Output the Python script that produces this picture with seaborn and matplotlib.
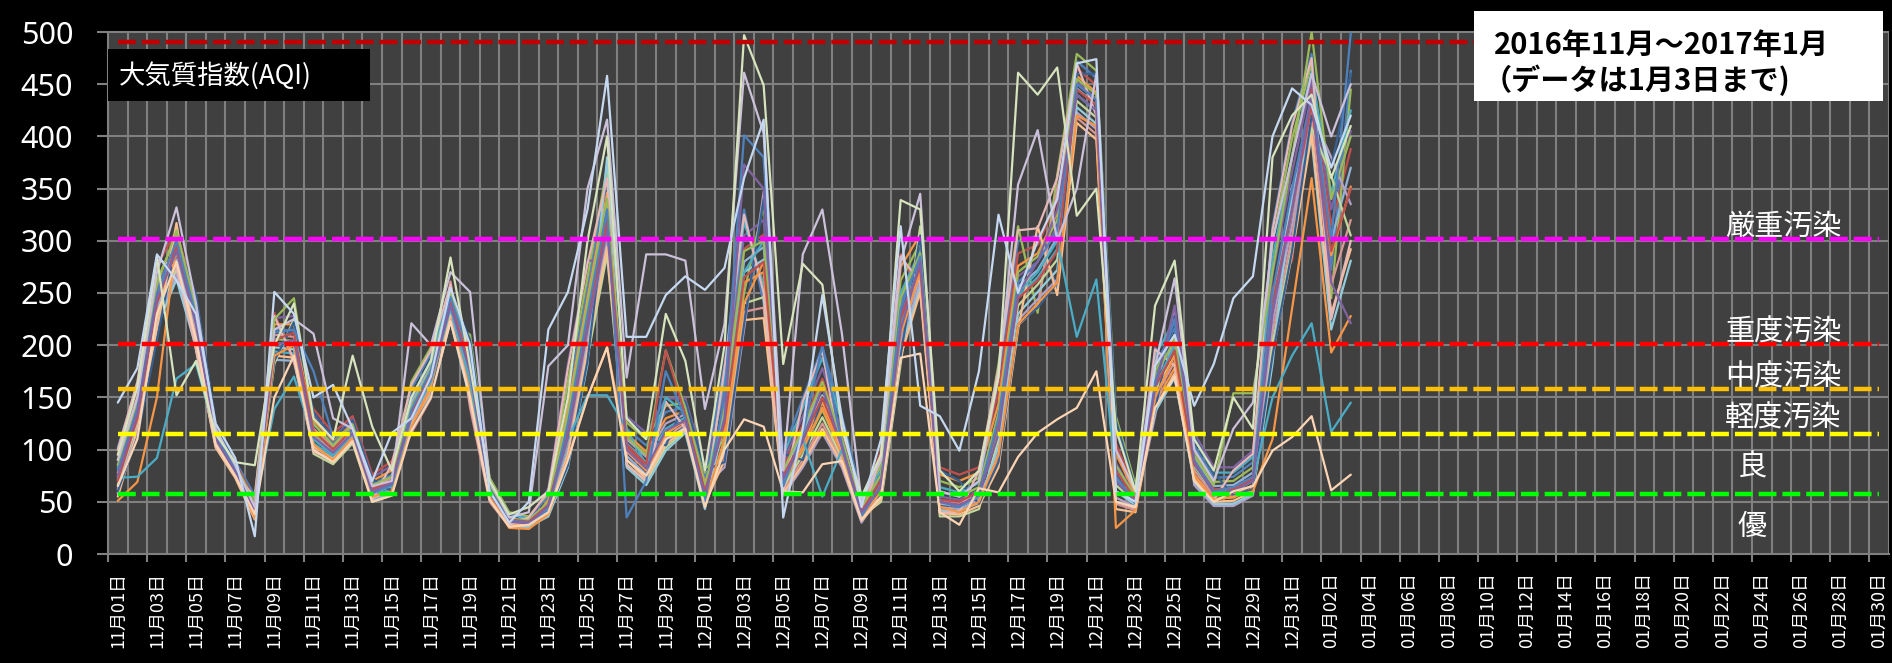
import numpy as np
import pandas as pd
import matplotlib
matplotlib.use("Agg")
import matplotlib.pyplot as plt
import seaborn as sns
from matplotlib.patches import Rectangle

sns.set_theme(style="dark")
plt.rcParams["font.family"] = ["Noto Sans CJK JP", "DejaVu Sans"]

# ---------------- categories / tick labels ----------------
dates = pd.date_range("2016-11-01", "2017-01-30", freq="D")
date_labels = [f"{d.month:02d}月{d.day:02d}日" for d in dates]
n_days = len(dates)

# ---------------- AQI series (11/01 .. 01/03, 64 days) ----------------
st01 = [102,162,270,261,246,124,89,56, 215,214,124,106,124,67,76, 158,192,256,160,71,38,35, 55,150,255,358,120,104,136,141,73, 182,330,240,99,149,198,132,56, 75,240,283,59,55,64, 168,300,305,255,472,456,118,63, 182,216,104,73,74,88, 314,413,479,272,463]
st02 = [95,158,276,310,240,122,87,52, 231,182,139,116,132,76,89, 140,175,244,182,64,34,32, 46,115,220,316,102,84,116,128,57, 145,292,306,83,124,168,114,46, 99,287,248,83,76,83, 155,288,296,338,465,449,106,60, 162,196,88,62,63,74, 255,281,446,315,388]
st03 = [90,150,262,305,232,119,85,50, 206,204,116,100,119,62,70, 165,198,221,210,73,40,36, 58,165,265,370,126,110,142,145,78, 112,250,335,67,100,138,96,38, 86,262,298,70,64,73, 182,314,231,363,479,463,132,66, 175,209,98,69,70,83, 298,398,470,245,445]
st04 = [86,145,255,298,226,116,83,48, 226,228,134,112,129,73,85, 132,166,236,170,60,32,30, 63,182,281,281,132,116,149,149,83, 155,305,320,88,132,178,120,49, 71,230,276,55,52,61, 134,266,280,314,452,436,87,55, 198,165,116,83,83,99, 268,366,454,330,405]
st05 = [82,140,248,292,222,114,82,46, 194,192,106,93,112,56,62, 150,186,252,195,68,37,34, 48,122,228,326,106,88,120,131,60, 168,318,258,94,140,188,126,52, 80,250,290,64,59,68, 118,247,265,292,440,424,73,51, 190,224,110,78,78,93, 282,382,462,345,425]
st06 = [78,136,242,288,218,112,80,44, 220,220,128,109,126,70,80, 120,155,226,155,54,29,27, 52,140,245,346,115,98,130,137,68, 120,260,270,70,105,145,100,40, 92,275,306,76,70,78, 144,276,288,326,458,442,96,57, 145,178,76,53,54,63, 232,327,430,286,352]
st07 = [75,132,236,282,214,111,79,43, 186,185,99,88,108,52,58, 145,180,248,188,66,35,33, 42,100,204,300,94,76,108,122,51, 136,280,294,78,117,160,109,44, 63,212,264,48,46,55, 126,256,272,303,446,430,80,53, 168,202,93,65,66,78, 243,339,438,300,370]
st08 = [71,128,230,276,210,109,78,41, 210,208,120,103,121,64,73, 116,149,261,140,50,26,26, 44,108,212,308,98,80,112,125,54, 96,232,236,61,90,125,89,34, 67,220,270,51,49,58, 89,219,237,350,418,402,48,42, 150,184,80,56,57,66, 212,304,415,258,320]
st09 = [66,124,226,272,206,107,76,39, 182,225,96,86,106,50,56, 136,170,240,176,62,33,31, 38,88,188,287,86,69,102,118,45, 104,240,246,64,95,131,92,36, 50,182,314,36,36,43, 110,238,258,282,434,418,66,49, 156,190,84,59,60,70, 202,294,408,362,305]
st10 = [62,120,222,268,203,105,75,37, 202,200,113,98,117,60,68, 128,162,232,165,58,31,29, 50,130,236,336,110,93,125,134,64, 83,215,347,56,83,116,83,30, 59,204,259,45,43,52, 96,224,244,263,423,407,54,45, 132,231,66,46,46,56, 222,315,422,380,335]
st11 = [58,116,218,263,198,103,74,35, 198,196,110,96,115,58,65, 118,152,223,148,52,27,26, 36,83,182,380,83,66,99,116,43, 128,270,282,74,111,152,104,42, 56,196,255,42,41,49, 103,230,251,272,428,412,60,47, 136,169,69,48,48,58, 182,352,397,215,281]
st12 = [55,118,215,317,195,102,73,33, 190,188,103,91,110,54,60, 124,158,229,202,56,30,28, 40,95,196,294,90,72,105,120,48, 90,224,226,58,86,120,86,32, 53,189,251,39,38,46, 83,215,314,248,413,397,43,40, 140,173,72,50,51,60, 192,287,402,230,292]
st13 = [60,112,205,300,248,125,86,38, 185,222,136,110,128,72,60, 120,150,250,205,70,38,29, 40,85,185,340,130,112,104,146,80, 88,220,340,96,90,150,128,50, 55,190,305,80,70,48, 88,220,236,260,460,460,128,62, 138,228,112,78,56,62, 190,290,420,370,460]
st14 = [100,165,282,275,196,104,76,55, 228,186,98,90,109,52,86, 162,195,258,145,52,28,35, 60,178,278,360,85,70,146,120,46, 178,325,250,60,146,195,88,33, 96,285,260,40,40,80, 178,310,312,360,470,420,50,44, 196,180,70,52,80,96, 310,410,475,225,300]
st15 = [145,178,287,262,230,125,92,17, 251,230,150,162,120,70,116, 130,170,255,200,60,30,50, 215,251,330,458,208,208,248,266,253, 274,360,416,35,120,248,130,45, 110,314,142,132,99,175, 325,250,300,340,470,474,60,50, 180,210,142,182,245,266, 400,446,430,370,420]
st16 = [90,150,270,332,240,120,85,45, 215,225,211,130,120,65,70, 221,200,270,251,70,35,40, 180,200,350,416,169,287,287,281,139, 220,461,403,80,287,330,211,50, 90,280,345,60,55,70, 170,354,406,300,350,460,100,60, 180,264,100,70,120,145, 300,380,460,400,450]
st17 = [95,160,285,152,185,115,88,85, 200,240,130,110,190,122,80, 150,185,284,180,70,38,45, 60,150,300,400,130,110,230,185,80, 200,497,449,182,278,258,120,55, 95,339,330,80,60,80, 170,461,440,466,324,350,120,60, 238,281,110,80,150,120, 380,420,440,360,410]
st18 = [65,110,230,280,205,105,75,38, 150,190,100,88,108,50,56, 118,150,223,150,52,26,28, 40,90,150,198,90,75,110,120,45, 100,129,122,60,59,86,89,33, 55,188,192,40,28,63, 59,93,116,129,140,175,50,45, 140,170,70,50,60,65, 99,112,132,61,76]
st19 = [51,69,150,300,230,110,80,34, 190,200,105,90,112,55,60, 122,160,240,160,56,25,24, 38,92,150,198,100,80,115,128,50, 110,240,280,70,100,140,95,35, 60,210,270,45,40,50, 95,220,240,260,420,410,25,42, 150,190,75,52,55,60, 110,235,360,193,228]
st20 = [73,74,92,168,182,115,80,45, 139,170,110,95,115,60,65, 130,165,235,165,60,32,30, 44,110,152,152,120,85,150,135,55, 130,270,300,70,110,55,100,40, 65,220,280,50,45,55, 120,250,270,300,208,263,70,50, 160,200,85,60,60,70, 150,190,221,117,145]
st21 = [85,145,258,310,235,118,84,47, 225,245,125,104,124,66,74, 140,178,250,185,64,34,32, 50,135,240,340,112,95,195,140,66, 140,290,300,80,120,165,110,44, 76,245,288,60,55,64, 135,270,285,320,455,440,85,54, 170,205,94,66,154,154, 270,380,500,340,400]
st22 = [70,130,240,295,225,112,81,42, 205,212,118,100,120,62,70, 135,172,242,180,62,33,31, 47,120,225,320,105,86,195,133,60, 125,265,280,75,110,150,103,41, 70,225,275,52,50,60, 125,245,262,290,445,430,80,52, 160,195,86,62,62,72, 240,330,430,290,350]
st23 = [80,140,250,300,228,113,82,40, 212,215,175,112,118,58,66, 138,176,246,190,62,32,30, 42,125,230,330,35,70,175,130,50, 150,401,380,65,115,200,105,36, 66,235,285,50,45,58, 130,260,280,310,450,435,75,48, 165,225,90,60,64,74, 250,350,440,300,499]
st24 = [75,135,245,290,220,110,79,42, 200,205,112,97,116,60,68, 132,168,238,175,58,31,29, 46,112,215,310,100,82,118,128,56, 130,373,350,72,108,160,102,40, 64,215,280,50,47,56, 115,250,280,330,440,425,70,50, 158,238,88,58,60,70, 230,330,440,260,221]

stations = {
    "st01": st01, "st02": st02, "st03": st03, "st04": st04, "st05": st05, "st06": st06,
    "st07": st07, "st08": st08, "st09": st09, "st10": st10, "st11": st11, "st12": st12,
    "st13": st13, "st14": st14, "st19": st19, "st20": st20, "st21": st21, "st22": st22,
    "st23": st23, "st24": st24, "st18": st18, "st16": st16, "st17": st17, "st15": st15,
}
station_colors = {
    "st01": "#4F81BD", "st02": "#C0504D", "st03": "#9BBB59", "st04": "#8064A2",
    "st05": "#4BACC6", "st06": "#F79646", "st07": "#95B3D7", "st08": "#D99694",
    "st09": "#C3D69B", "st10": "#B3A2C7", "st11": "#93CDDD", "st12": "#FAC090",
    "st13": "#376092", "st14": "#E6B9B8", "st19": "#F79646", "st20": "#4BACC6",
    "st21": "#9BBB59", "st22": "#C0504D", "st23": "#4F81BD", "st24": "#8064A2",
    "st18": "#FCD5B5", "st16": "#CCC1DA", "st17": "#D7E4BD", "st15": "#C6D9F1",
}

# AQI category thresholds
thresholds = [490, 302, 201, 158, 115, 57]
threshold_colors = ["#C00000", "#FF00FF", "#FF0000", "#FFC000", "#FFFF00", "#00FF00"]
level_names = ["厳重汚染", "重度汚染", "中度汚染", "軽度汚染", "良", "優"]
level_y = [313, 212, 169, 130, 83, 26]
level_x = [85.1, 85.1, 85.1, 85.1, 83.5, 83.5]

df = pd.DataFrame(
    [(name, i, v) for name, vals in stations.items() for i, v in enumerate(vals)],
    columns=["station", "day", "aqi"],
)

W, H = 1892, 663
fig = plt.figure(figsize=(W / 100, H / 100), dpi=100, facecolor="black")
ax = fig.add_axes([108 / W, 1 - 554 / H, 1781 / W, 522 / H])
ax.set_facecolor("#404040")

grid_c = "#808080"
ax.vlines(np.arange(-0.5, n_days, 1), 0, 500, colors=grid_c, lw=1.5, zorder=1)
ax.hlines(np.arange(50, 501, 50), -0.5, n_days - 0.5, colors=grid_c, lw=1.5, zorder=1, clip_on=False)

sns.lineplot(data=df, x="day", y="aqi", hue="station", hue_order=list(stations.keys()),
             palette=station_colors, legend=False, linewidth=1.6, sort=False,
             estimator=None, ax=ax, zorder=3)

all_days = np.arange(n_days)
for v, c in zip(thresholds, threshold_colors):
    ax.plot(all_days, np.full(n_days, v), color=c, lw=3.2, dashes=(4.0, 1.35),
            dash_capstyle="butt", zorder=4)

for name, x, y in zip(level_names, level_x, level_y):
    ax.text(x, y, name, color="white", fontsize=21, ha="center", va="center", zorder=6)

ax.set_xlim(-0.5, n_days - 0.5)
ax.set_ylim(0, 500)
ax.grid(False)
for s in ["top", "right"]:
    ax.spines[s].set_visible(False)
for s in ["left", "bottom"]:
    ax.spines[s].set_color(grid_c)
    ax.spines[s].set_linewidth(1.5)

ax.set_yticks(np.arange(0, 501, 50))
ax.tick_params(axis="y", left=True, colors=grid_c, labelcolor="white", length=8,
               width=1.5, pad=17, labelsize=22, direction="out")
for lbl in ax.get_yticklabels():
    lbl.set_fontfamily(["Noto Sans", "DejaVu Sans"])

ax.set_xticks(np.arange(0, n_days, 2))
ax.set_xticklabels(date_labels[::2], rotation=90, fontsize=13, color="white")
ax.tick_params(axis="x", which="major", length=0, pad=13)
ax.set_xticks(np.arange(-0.5, n_days, 2), minor=True)
ax.tick_params(axis="x", which="minor", bottom=True, length=6, width=1.5,
               color=grid_c, direction="out")
ax.set_xlabel("")
ax.set_ylabel("")

# title box
fig.add_artist(Rectangle((108 / W, 1 - 101 / H), 262 / W, 52 / H, transform=fig.transFigure,
                         facecolor="black", edgecolor="none", zorder=5))
fig.text(119 / W, 1 - 76 / H, "大気質指数(AQI)", color="white", fontsize=19,
         ha="left", va="center", zorder=6)

# period box
fig.add_artist(Rectangle((1474 / W, 1 - 101 / H), 409 / W, 90 / H, transform=fig.transFigure,
                         facecolor="white", edgecolor="none", zorder=5))
fig.text(1494 / W, 1 - 45 / H, "2016年11月～2017年1月", color="black", fontsize=21,
         fontweight="bold", ha="left", va="center", zorder=6)
fig.text(1483 / W, 1 - 80 / H, "（データは1月3日まで)", color="black", fontsize=21,
         fontweight="bold", ha="left", va="center", zorder=6)

fig.savefig("out.png", dpi=100, facecolor="black")
